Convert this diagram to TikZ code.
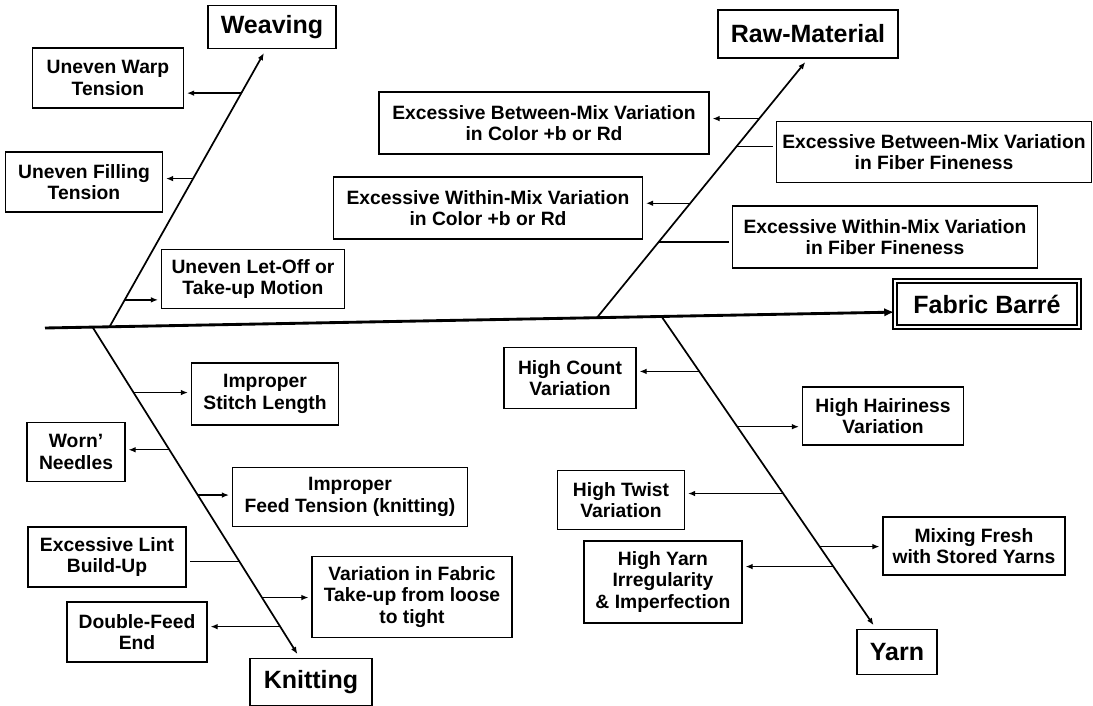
\documentclass[tikz,border=0pt]{standalone}
\usepackage{fontspec}
\setmainfont{Liberation Sans}
\usetikzlibrary{calc,arrows.meta}
\begin{document}
\begin{tikzpicture}[x=0.7pt,y=-0.7pt,>={Latex[length=5pt,width=4pt]}]
\tikzstyle{cause}=[draw,line width=1pt,align=center,inner sep=1pt,fill=white,font=\fontsize{13.5}{15}\selectfont\bfseries]
\tikzstyle{head}=[draw,line width=1.1pt,inner sep=2pt,fill=white,font=\fontsize{17.5}{20}\selectfont\bfseries]
\tikzstyle{bone}=[line width=1.2pt,->,shorten >=3pt]
\tikzstyle{twig}=[line width=0.9pt,shorten >=2pt]
\tikzset{sz/.style 2 args={minimum width=#1*0.7pt,minimum height=#2*0.7pt}}
\useasboundingbox (0,0) rectangle (1093,706);
% heads
\node[head,sz={128}{43}](weav) at (272,27) {Weaving};
\node[head,sz={180}{48}](raw) at (808,34) {Raw-Material};
\node[head,sz={122}{47}](knit) at (311,682) {Knitting};
\node[head,sz={80}{45}](yarn) at (897,652) {Yarn};
\node[head,sz={184}{46},double,double distance=2pt](fab) at (987,304) {Fabric Barré};
% spine and bones
\coordinate (s0) at (45,328);
\draw[line width=2pt,-{Latex[length=7pt,width=6pt]}] (s0) -- (fab.185);
\coordinate (wS) at ($(s0)!0.076!(fab.185)$);
\coordinate (kS) at ($(s0)!0.056!(fab.185)$);
\coordinate (rS) at ($(s0)!0.650!(fab.185)$);
\coordinate (yS) at ($(s0)!0.726!(fab.185)$);
\draw[bone] (wS) -- (weav.255);
\draw[bone] (rS) -- (raw.south);
\draw[bone] (kS) -- (knit.115);
\draw[bone] (yS) -- (yarn.132);
% causes
\node[cause,sz={151}{60}](uwt) at (108,78) {Uneven Warp\\Tension};
\node[cause,sz={157}{60}](uft) at (84,182) {Uneven Filling\\Tension};
\node[cause,sz={183}{59}](ulo) at (253,279) {Uneven Let-Off or\\Take-up Motion};
\node[cause,sz={330}{62}](ebc) at (544,123) {Excessive Between-Mix Variation\\in Color +b or Rd};
\node[cause,sz={315}{61}](ebf) at (934,152) {Excessive Between-Mix Variation\\in Fiber Fineness};
\node[cause,sz={309}{62}](ewc) at (488,208) {Excessive Within-Mix Variation\\in Color +b or Rd};
\node[cause,sz={305}{62}](ewf) at (885,237) {Excessive Within-Mix Variation\\in Fiber Fineness};
\node[cause,sz={147}{62}](isl) at (265,394) {Improper\\Stitch Length};
\node[cause,sz={98}{59}](wn) at (76,452) {Worn'\\Needles};
\node[cause,sz={235}{59}](ift) at (350,497) {Improper\\Feed Tension (knitting)};
\node[cause,sz={158}{60}](elb) at (107,557) {Excessive Lint\\Build-Up};
\node[cause,sz={200}{81}](vft) at (412,597) {Variation in Fabric\\Take-up from loose\\to tight};
\node[cause,sz={140}{60}](dfe) at (137,632) {Double-Feed\\End};
\node[cause,sz={132}{61}](hcv) at (570,378) {High Count\\Variation};
\node[cause,sz={161}{58}](hhv) at (883,416) {High Hairiness\\Variation};
\node[cause,sz={127}{59}](htv) at (621,500) {High Twist\\Variation};
\node[cause,sz={182}{58}](mfs) at (974,546) {Mixing Fresh\\with Stored Yarns};
\node[cause,sz={158}{82}](hyi) at (663,582) {High Yarn\\Irregularity\\\& Imperfection};
% points on the bones
\coordinate (w1) at ($(wS)!0.842!(weav.255)$);
\coordinate (w2) at ($(wS)!0.534!(weav.255)$);
\coordinate (w3) at ($(wS)!0.097!(weav.255)$);
\coordinate (r1) at ($(rS)!0.769!(raw.south)$);
\coordinate (r2) at ($(rS)!0.662!(raw.south)$);
\coordinate (r3) at ($(rS)!0.442!(raw.south)$);
\coordinate (r4) at ($(rS)!0.292!(raw.south)$);
\coordinate (k1) at ($(kS)!0.198!(knit.115)$);
\coordinate (k2) at ($(kS)!0.371!(knit.115)$);
\coordinate (k3) at ($(kS)!0.508!(knit.115)$);
\coordinate (k4) at ($(kS)!0.708!(knit.115)$);
\coordinate (k5) at ($(kS)!0.818!(knit.115)$);
\coordinate (k6) at ($(kS)!0.906!(knit.115)$);
\coordinate (y1) at ($(yS)!0.176!(yarn.132)$);
\coordinate (y2) at ($(yS)!0.353!(yarn.132)$);
\coordinate (y3) at ($(yS)!0.567!(yarn.132)$);
\coordinate (y4) at ($(yS)!0.737!(yarn.132)$);
\coordinate (y5) at ($(yS)!0.801!(yarn.132)$);
% connectors
\draw[twig,->] (w1) -- (w1 -| uwt.east);
\draw[twig,->] (w2) -- (w2 -| uft.east);
\draw[twig,->] (w3) -- (w3 -| ulo.west);
\draw[twig,->] (r1) -- (r1 -| ebc.east);
\draw[twig] (r2) -- (r2 -| ebf.west);
\draw[twig,->] (r3) -- (r3 -| ewc.east);
\draw[twig] (r4) -- (r4 -| ewf.west);
\draw[twig,->] (k1) -- (k1 -| isl.west);
\draw[twig,->] (k2) -- (k2 -| wn.east);
\draw[twig,->] (k3) -- (k3 -| ift.west);
\draw[twig] (k4) -- (k4 -| elb.east);
\draw[twig,->] (k5) -- (k5 -| vft.west);
\draw[twig,->] (k6) -- (k6 -| dfe.east);
\draw[twig,->] (y1) -- (y1 -| hcv.east);
\draw[twig,->] (y2) -- (y2 -| hhv.west);
\draw[twig,->] (y3) -- (y3 -| htv.east);
\draw[twig,->] (y4) -- (y4 -| mfs.west);
\draw[twig,->] (y5) -- (y5 -| hyi.east);
\end{tikzpicture}
\end{document}
